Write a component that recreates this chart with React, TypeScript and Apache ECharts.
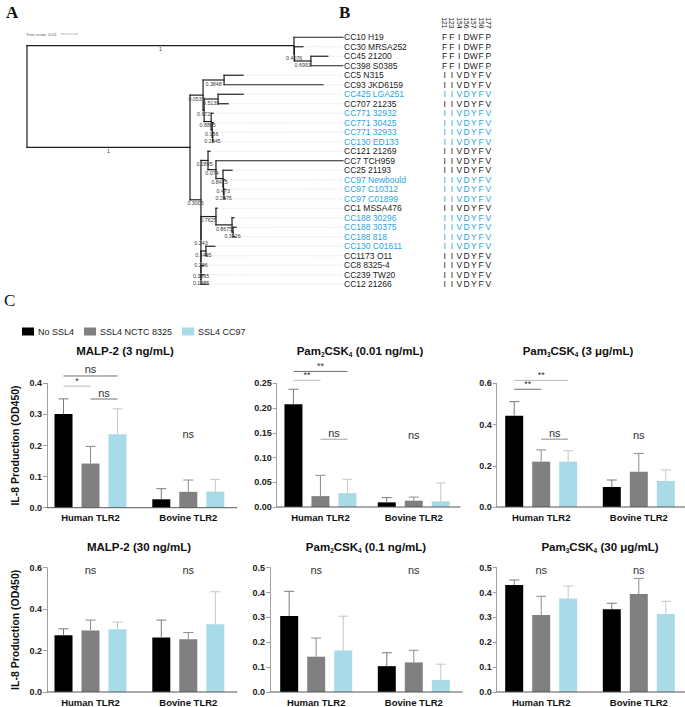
import React, { useEffect, useRef } from 'react';
import * as echarts from 'echarts';

const SANS = '"Liberation Sans", Arial, Helvetica, sans-serif';
const SERIF = '"Liberation Serif", "DejaVu Serif", "Times New Roman", serif';

// ---------------- Panel A : phylogeny (Newick; branch lengths = substitutions/site, internal labels = support)
const treeNewick =
  '((CC10 H19:0.0327,(CC30 MRSA252:0.0057,(CC45 21200:0.0113,CC398 S0385:0.0213)0.6991:0.011)0.4076:0.0003)1:0.178,' +
  '(((CC5 N315:0.0127,CC93 JKD6159:0.066)0.3848:0.014,((CC425 LGA251:0.0167,CC707 21235:0.0067)0.5135:0.0093,' +
  '(CC771 32932:0.0013,(CC771 30425:0.0007,(CC771 32933:0.0003,CC130 ED133:0.0003)0.2845:0.0003)0.166:0.0007)0.8885:0.0047)0.672:0.0007)0.0537:0.0087,' +
  '((CC121 21269:0.0013,(CC7 TCH959:0.0847,(CC25 21193:0.006,(CC97 Newbould:0.001,(CC97 C10312:0.0007,CC97 C01899:0.0007)0.2875:0.0003)0.473:0.0003)0.8415:0.0047)0.074:0.0053)0.2895:0.0047,' +
  '((CC1 MSSA476:0.0007,(CC188 30296:0.0013,(CC188 30375:0.002,CC188 818:0.0013)0.3226:0.0007)0.8675:0.0107)0.7625:0.01,' +
  '((CC130 C01611:0.006,CC1173 O11:0.0007)0.5455:0.0033,(CC8 8325-4:0.002,(CC239 TW20:0.002,CC12 21266:0.0047)0.1385:0)0.3995:0)0.226:0)0.243:0)0.3005:0.0073)1:0.1087);';
const treeScaleValue = 0.01;
const treeScaleLabel = 'Tree scale: 0.01';
const highlightedStrains = [
  'CC425 LGA251', 'CC771 32932', 'CC771 30425', 'CC771 32933', 'CC130 ED133',
  'CC97 Newbould', 'CC97 C10312', 'CC97 C01899', 'CC188 30296', 'CC188 30375',
  'CC188 818', 'CC130 C01611',
];

// ---------------- Panel B : SSL4 residues
const aaPositions = ['121', '123', '154', '156', '157', '158', '177'];
const aaVariantFF = ['F', 'F', 'I', 'D', 'W', 'F', 'P'];
const aaVariantII = ['I', 'I', 'V', 'D', 'Y', 'F', 'V'];
const variantFFStrains = ['CC10 H19', 'CC30 MRSA252', 'CC45 21200', 'CC398 S0385'];

// ---------------- Panel C : IL-8 production
const categories = ['Human TLR2', 'Bovine TLR2'];
const treatments = ['No SSL4', 'SSL4 NCTC 8325', 'SSL4 CC97'];
const yAxisTitle = 'IL-8 Production (OD450)';
const panelTitles = [
  'MALP-2 (3 ng/mL)', 'Pam_2CSK_4 (0.01 ng/mL)', 'Pam_3CSK_4 (3 \u03bcg/mL)',
  'MALP-2 (30 ng/mL)', 'Pam_2CSK_4 (0.1 ng/mL)', 'Pam_3CSK_4 (30 \u03bcg/mL)',
];
// rows = treatments, columns = categories
const malp3Mean = [[0.301, 0.027], [0.142, 0.051], [0.236, 0.052]];
const malp3Upper = [[0.350, 0.061], [0.197, 0.089], [0.318, 0.091]];
const pam2LowMean = [[0.2075, 0.0094], [0.022, 0.0128], [0.028, 0.0115]];
const pam2LowUpper = [[0.238, 0.019], [0.064, 0.020], [0.056, 0.0485]];
const pam3LowMean = [[0.443, 0.097], [0.220, 0.171], [0.220, 0.126]];
const pam3LowUpper = [[0.511, 0.131], [0.277, 0.260], [0.273, 0.180]];
const malp30Mean = [[0.274, 0.263], [0.297, 0.255], [0.303, 0.327]];
const malp30Upper = [[0.305, 0.347], [0.347, 0.287], [0.337, 0.484]];
const pam2HighMean = [[0.306, 0.104], [0.142, 0.119], [0.167, 0.048]];
const pam2HighUpper = [[0.405, 0.158], [0.217, 0.168], [0.305, 0.112]];
const pam3HighMean = [[0.430, 0.333], [0.310, 0.394], [0.376, 0.314]];
const pam3HighUpper = [[0.4505, 0.357], [0.385, 0.457], [0.426, 0.365]];
// significance: [category, fromTreatment, toTreatment (-1 = text only), value, label]
const malp3Sig = [[0, 0, 2, 0.4235, 'ns'], [0, 0, 1, 0.391, '*'], [0, 1, 2, 0.3495, 'ns'], [1, -1, -1, 0.218, 'ns']];
const pam2LowSig = [[0, 0, 2, 0.274, '**'], [0, 0, 1, 0.256, '**'], [0, 1, 2, 0.137, 'ns'], [1, -1, -1, 0.135, 'ns']];
const pam3LowSig = [[0, 0, 2, 0.614, '**'], [0, 0, 1, 0.571, '**'], [0, 1, 2, 0.329, 'ns'], [1, -1, -1, 0.324, 'ns']];
const malp30Sig = [[0, -1, -1, 0.561, 'ns'], [1, -1, -1, 0.561, 'ns']];
const pam2HighSig = [[0, -1, -1, 0.468, 'ns'], [1, -1, -1, 0.468, 'ns']];
const pam3HighSig = [[0, -1, -1, 0.468, 'ns'], [1, -1, -1, 0.468, 'ns']];
const yMax = [0.4, 0.25, 0.6, 0.6, 0.5, 0.5];
const yStep = [0.1, 0.05, 0.2, 0.2, 0.1, 0.1];
const yDecimals = [1, 2, 1, 1, 1, 1];

// ---------------- styles / layout (not data)
const barColors = ['#000000', '#808080', '#a8dbe7'];
const errColors = ['#7a7a7a', '#8c8c8c', '#c6c6c6'];
const sigShades = [
  ['#707070', '#b8b8b8', '#707070'],
  ['#707070', '#b8b8b8', '#a0a0a0'],
  ['#b8b8b8', '#707070', '#8a8a8a'],
  [], [], [],
];
const BLUE = '#27a6e0';
const panelLayout = [
  { left: 41.6, top: 383.3, width: 195.6, height: 124.4, axisX: 47, tx: 125, ty: 351 },
  { left: 273.8, top: 383.3, width: 186.6, height: 123.7, axisX: 276.7, tx: 360, ty: 351 },
  { left: 492.4, top: 383.3, width: 195.2, height: 123.7, axisX: 496.7, tx: 578, ty: 351 },
  { left: 41.6, top: 567.7, width: 195.6, height: 124.3, axisX: 47, tx: 139, ty: 547 },
  { left: 267.4, top: 567.7, width: 195.2, height: 124.3, axisX: 270, tx: 366, ty: 547 },
  { left: 492.4, top: 567.7, width: 195.2, height: 124.3, axisX: 496.7, tx: 600, ty: 547 },
];
const BAR_W = 18;
const BAR_STEP = 27;

function parseNewick(s: string) {
  let i = 0;
  const read = (): any => {
    const node: any = { children: [], name: '', len: 0 };
    if (s[i] === '(') {
      i++;
      node.children.push(read());
      while (s[i] === ',') { i++; node.children.push(read()); }
      i++;
    }
    let name = '';
    while (i < s.length && ':,);'.indexOf(s[i]) < 0) name += s[i++];
    node.name = name.trim();
    if (s[i] === ':') {
      i++;
      let num = '';
      while (i < s.length && ',);'.indexOf(s[i]) < 0) num += s[i++];
      node.len = parseFloat(num);
    }
    return node;
  };
  return read();
}

function layoutTree(root: any) {
  const leaves: any[] = [];
  const walk = (n: any, px: number) => {
    n.x = px + n.len;
    if (!n.children.length) { n.y = leaves.length; leaves.push(n); return; }
    n.children.forEach((c: any) => walk(c, n.x));
    n.y = (n.children[0].y + n.children[n.children.length - 1].y) / 2;
  };
  root.len = 0;
  walk(root, 0);
  const segs: number[][] = [];
  const supports: any[] = [];
  const collect = (n: any, parent: any) => {
    if (parent) {
      segs.push([parent.x, n.y, n.x, n.y]);
      if (n.children.length && n.name) supports.push({ x: (parent.x + n.x) / 2, y: n.y, text: n.name });
    }
    if (n.children.length) {
      segs.push([n.x, n.children[0].y, n.x, n.children[n.children.length - 1].y]);
      n.children.forEach((c: any) => collect(c, n));
    }
  };
  collect(root, null);
  return { leaves, segs, supports };
}

const toRich = (t: string) => '{a|' + t.replace(/_(\d)/g, '}{s|$1}{a|') + '}';

function buildOption() {
  const { leaves, segs, supports } = layoutTree(parseNewick(treeNewick));
  const maxX = Math.max(...leaves.map((l: any) => l.x));
  const leafNames = leaves.map((l: any) => l.name);
  const hl = new Set(highlightedStrains);
  const ff = new Set(variantFFStrains);

  const means = [malp3Mean, pam2LowMean, pam3LowMean, malp30Mean, pam2HighMean, pam3HighMean];
  const uppers = [malp3Upper, pam2LowUpper, pam3LowUpper, malp30Upper, pam2HighUpper, pam3HighUpper];
  const sigs: any[] = [malp3Sig, pam2LowSig, pam3LowSig, malp30Sig, pam2HighSig, pam3HighSig];

  const grids: any[] = [];
  const xAxes: any[] = [];
  const yAxes: any[] = [];
  const series: any[] = [];
  const graphic: any[] = [];

  panelLayout.forEach((L, p) => {
    grids.push({ left: L.left, top: L.top, width: L.width, height: L.height, outerBoundsMode: 'none', containLabel: false });
    xAxes.push({
      gridIndex: p, type: 'category', data: categories,
      axisLine: { show: false }, axisTick: { show: false },
      axisLabel: { fontFamily: SANS, fontWeight: 'bold', fontSize: 9.5, color: '#111', margin: 5, interval: 0 },
    });
    const dec = yDecimals[p];
    yAxes.push({
      gridIndex: p, type: 'value', min: 0, max: yMax[p], interval: yStep[p],
      offset: -(L.axisX - L.left),
      axisLine: { show: true, lineStyle: { color: '#a0a0a0', width: 1 } },
      axisTick: { show: true, length: 4, lineStyle: { color: '#a0a0a0' } },
      splitLine: { show: false },
      axisLabel: { fontFamily: SANS, fontWeight: 'bold', fontSize: 9, color: '#222', margin: 5, formatter: (v: number) => v.toFixed(dec) },
      name: p % 3 === 0 ? yAxisTitle : '',
      nameLocation: 'middle', nameGap: 27,
      nameTextStyle: { fontFamily: SANS, fontWeight: 'bold', fontSize: 10.5, color: '#111' },
    });
    treatments.forEach((t, g) => {
      series.push({
        type: 'bar', name: t, xAxisIndex: p, yAxisIndex: p, data: means[p][g],
        barWidth: BAR_W, barGap: '50%', itemStyle: { color: barColors[g] }, silent: true, z: 2,
      });
    });
    const errData: number[][] = [];
    treatments.forEach((_, g) => categories.forEach((__, c) => errData.push([c, means[p][g][c], uppers[p][g][c], g])));
    series.push({
      type: 'custom', xAxisIndex: p, yAxisIndex: p, data: errData, z: 3, silent: true,
      renderItem: (params: any, api: any) => {
        const g = api.value(3);
        const a = api.coord([api.value(0), api.value(1)]);
        const b = api.coord([api.value(0), api.value(2)]);
        const cx = a[0] + (g - 1) * BAR_STEP;
        const st = { stroke: errColors[g], lineWidth: 1 };
        return {
          type: 'group', children: [
            { type: 'line', shape: { x1: cx, y1: a[1], x2: cx, y2: b[1] }, style: st },
            { type: 'line', shape: { x1: cx - 5, y1: b[1], x2: cx + 5, y2: b[1] }, style: st },
          ],
        };
      },
    });
    series.push({
      type: 'custom', xAxisIndex: p, yAxisIndex: p, data: [[0, 0]], z: 4, silent: true,
      renderItem: (params: any, api: any) => {
        const cs = params.coordSys;
        const y0 = api.coord([0, 0])[1];
        return { type: 'line', shape: { x1: L.axisX, y1: y0, x2: cs.x + cs.width, y2: y0 }, style: { stroke: '#555', lineWidth: 1 } };
      },
    });
    const sg = sigs[p];
    series.push({
      type: 'custom', xAxisIndex: p, yAxisIndex: p, data: sg.map((s: any) => [s[0], s[3]]), z: 5, silent: true,
      renderItem: (params: any, api: any) => {
        const s = sg[params.dataIndex];
        const base = api.coord([api.value(0), api.value(1)]);
        const fs = s[4] === 'ns' ? 11 : 9;
        const txtStyle = (x: number, y: number) => ({
          type: 'text', x, y,
          style: { text: s[4], fill: '#333', fontSize: fs, fontFamily: SANS, align: 'center', verticalAlign: 'bottom' },
        });
        if (s[1] < 0) return txtStyle(base[0], base[1]);
        const x1 = base[0] + (s[1] - 1) * BAR_STEP;
        const x2 = base[0] + (s[2] - 1) * BAR_STEP;
        return {
          type: 'group', children: [
            { type: 'line', shape: { x1, y1: base[1], x2, y2: base[1] }, style: { stroke: sigShades[p][params.dataIndex] || '#777', lineWidth: 1 } },
            txtStyle((x1 + x2) / 2, base[1] - 1),
          ],
        };
      },
    });
    graphic.push({
      type: 'text', x: L.tx, y: L.ty, silent: true,
      style: {
        text: toRich(panelTitles[p]), align: 'center', verticalAlign: 'middle',
        rich: {
          a: { fontSize: 11.5, fontWeight: 'bold', fontFamily: SANS, fill: '#111', color: '#111', lineHeight: 14 },
          s: { fontSize: 6.5, fontWeight: 'bold', fontFamily: SANS, fill: '#111', color: '#111', lineHeight: 7, verticalAlign: 'bottom' },
        },
      },
    });
  });

  // ---- tree grid (index 6)
  const TG = 6;
  grids.push({ left: 27, top: 32.5, width: 316, height: 256.5, outerBoundsMode: 'none', containLabel: false });
  xAxes.push({ gridIndex: TG, type: 'value', min: 0, max: maxX, show: false });
  yAxes.push({ gridIndex: TG, type: 'value', min: -0.5, max: leaves.length - 0.5, inverse: true, show: false });
  series.push({
    type: 'custom', xAxisIndex: TG, yAxisIndex: TG, silent: true, z: 1,
    data: leaves.filter((l: any) => l.x < maxX - 0.0004).map((l: any) => [l.x, l.y, maxX]),
    renderItem: (params: any, api: any) => {
      const a = api.coord([api.value(0), api.value(1)]);
      const b = api.coord([api.value(2), api.value(1)]);
      return { type: 'line', shape: { x1: a[0] + 1, y1: a[1], x2: b[0], y2: b[1] }, style: { stroke: '#c4c4c4', lineWidth: 0.7, lineDash: [1, 1.6] } };
    },
  });
  series.push({
    type: 'custom', xAxisIndex: TG, yAxisIndex: TG, silent: true, z: 2, data: segs,
    renderItem: (params: any, api: any) => {
      const a = api.coord([api.value(0), api.value(1)]);
      const b = api.coord([api.value(2), api.value(3)]);
      return { type: 'line', shape: { x1: a[0], y1: a[1], x2: b[0], y2: b[1] }, style: { stroke: '#1e1e1e', lineWidth: 1.2, lineCap: 'square' } };
    },
  });
  series.push({
    type: 'custom', xAxisIndex: TG, yAxisIndex: TG, silent: true, z: 3,
    data: supports.map((s: any) => [s.x, s.y]),
    renderItem: (params: any, api: any) => {
      const a = api.coord([api.value(0), api.value(1)]);
      return { type: 'text', x: a[0], y: a[1] + 1.2, style: { text: supports[params.dataIndex].text, fill: '#3a3a3a', fontSize: 5.3, fontFamily: SANS, align: 'center', verticalAlign: 'top' } };
    },
  });
  series.push({
    type: 'custom', xAxisIndex: TG, yAxisIndex: TG, silent: true, z: 3,
    data: leaves.map((l: any) => [maxX, l.y]),
    renderItem: (params: any, api: any) => {
      const a = api.coord([api.value(0), api.value(1)]);
      const name = leafNames[params.dataIndex];
      return { type: 'text', x: a[0] + 1, y: a[1], style: { text: name, fill: hl.has(name) ? BLUE : '#222', fontSize: 8.5, fontFamily: SANS, align: 'left', verticalAlign: 'middle' } };
    },
  });
  series.push({
    type: 'custom', xAxisIndex: TG, yAxisIndex: TG, silent: true, z: 3,
    data: [[0, -0.34]],
    renderItem: (params: any, api: any) => {
      const a = api.coord([api.value(0), api.value(1)]);
      const s0 = api.coord([api.value(0) + 0.0233, api.value(1)]);
      const s1 = api.coord([api.value(0) + 0.0233 + treeScaleValue, api.value(1)]);
      const st = { stroke: '#999', lineWidth: 0.6 };
      return {
        type: 'group', children: [
          { type: 'text', x: a[0] - 1, y: a[1], style: { text: treeScaleLabel, fill: '#555', fontSize: 4.3, fontFamily: SANS, align: 'left', verticalAlign: 'middle' } },
          { type: 'line', shape: { x1: s0[0], y1: s0[1], x2: s1[0], y2: s1[1] }, style: st },
          { type: 'line', shape: { x1: s0[0], y1: s0[1] - 1, x2: s0[0], y2: s0[1] + 1 }, style: st },
          { type: 'line', shape: { x1: s1[0], y1: s1[1] - 1, x2: s1[0], y2: s1[1] + 1 }, style: st },
        ],
      };
    },
  });

  // ---- residue grid (index 7)
  const AG = 7;
  grids.push({ left: 441, top: 32.5, width: 51, height: 256.5, outerBoundsMode: 'none', containLabel: false });
  xAxes.push({
    gridIndex: AG, type: 'category', data: aaPositions, position: 'top',
    axisLine: { show: false }, axisTick: { show: false },
    axisLabel: { rotate: 90, fontSize: 6.8, fontFamily: SANS, color: '#222', margin: 4, interval: 0 },
  });
  yAxes.push({ gridIndex: AG, type: 'category', data: leafNames, inverse: true, show: false });
  const aaData: number[][] = [];
  leafNames.forEach((_: string, i: number) => aaPositions.forEach((__, j) => aaData.push([j, i])));
  series.push({
    type: 'custom', xAxisIndex: AG, yAxisIndex: AG, silent: true, data: aaData,
    renderItem: (params: any, api: any) => {
      const j = api.value(0), i = api.value(1);
      const name = leafNames[i];
      const letter = (ff.has(name) ? aaVariantFF : aaVariantII)[j];
      const a = api.coord([j, i]);
      return { type: 'text', x: a[0], y: a[1], style: { text: letter, fill: hl.has(name) ? BLUE : '#222', fontSize: 8.5, fontFamily: SANS, align: 'center', verticalAlign: 'middle' } };
    },
  });

  graphic.push(
    { type: 'text', x: 6, y: 4, silent: true, style: { text: 'A', fontFamily: SERIF, fontWeight: 'bold', fontSize: 17, fill: '#111' } },
    { type: 'text', x: 339, y: 4, silent: true, style: { text: 'B', fontFamily: SERIF, fontWeight: 'bold', fontSize: 17, fill: '#111' } },
    { type: 'text', x: 4, y: 292, silent: true, style: { text: 'C', fontFamily: SERIF, fontWeight: 'normal', fontSize: 17, fill: '#111' } },
  );

  return {
    animation: false,
    backgroundColor: '#ffffff',
    legend: {
      data: treatments, left: 17, top: 322, icon: 'rect', itemWidth: 12, itemHeight: 8, itemGap: 10,
      textStyle: { fontFamily: SANS, fontSize: 9, color: '#222', padding: [0, 0, 0, -1] },
      selectedMode: false,
    },
    grid: grids,
    xAxis: xAxes,
    yAxis: yAxes,
    series,
    graphic,
  };
}

export default function App() {
  const ref = useRef<HTMLDivElement>(null);
  useEffect(() => {
    const chart = echarts.init(ref.current as HTMLDivElement, null, { renderer: 'svg' });
    chart.setOption(buildOption() as any);
    return () => chart.dispose();
  }, []);
  return <div ref={ref} style={{ position: 'fixed', left: 0, top: 0, width: 685, height: 707, background: '#fff' }} />;
}
